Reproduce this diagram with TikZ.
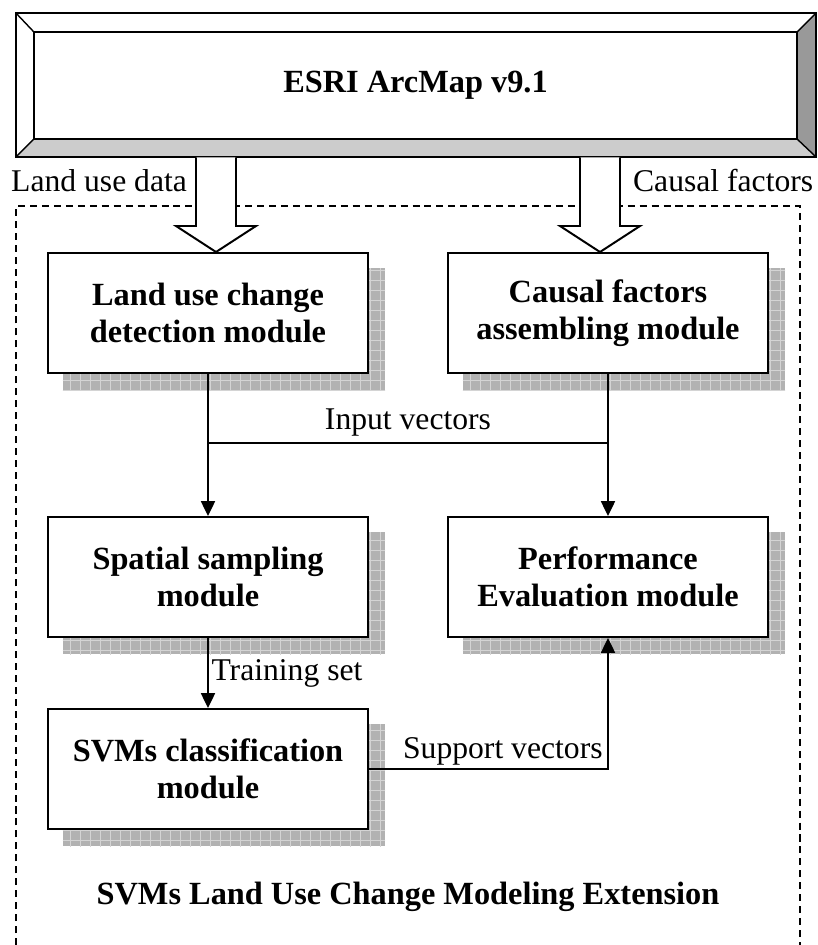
\documentclass[tikz,border=0pt]{standalone}
\usepackage{fontspec}
\setmainfont{Liberation Serif}
\usetikzlibrary{arrows.meta,calc,backgrounds}
\definecolor{BevelBottom}{RGB}{204,204,204}
\definecolor{BevelRight}{RGB}{153,153,153}
\definecolor{ShadowClr}{RGB}{178,178,178}
\definecolor{ShadowGrid}{RGB}{212,212,212}

\tikzset{
  module/.style={draw,line width=1.4pt,fill=white,minimum width=8cm,minimum height=3cm,
    inner sep=0pt,align=center,font=\fontsize{23}{26.2}\selectfont\bfseries},
  link/.style={line width=1pt,-{Triangle[length=10.5pt,width=10pt]}},
  plain/.style={line width=1pt},
  lbl/.style={font=\fontsize{22.5}{24}\selectfont,inner sep=2pt},
  fatarrow/.style={line width=1.4pt,fill=white,line join=miter},
  frame/.style={line width=1pt,dash pattern=on 5pt off 3.5pt}
}
\newcommand\BigArrow[2]{%
  \draw[fatarrow] ($(#1)+(-20,0)$) -- ($(#2)+(-20,-26)$) -- ($(#2)+(-40,-26)$)
    -- (#2) -- ($(#2)+(40,-26)$) -- ($(#2)+(20,-26)$) -- ($(#1)+(20,0)$);}

\begin{document}
\begin{tikzpicture}[x=0.025cm,y=-0.025cm]
\useasboundingbox (0,0) rectangle (817,945);

\node[inner sep=0pt,minimum width=19.075cm,minimum height=2.675cm,
  font=\fontsize{23}{26.2}\selectfont\bfseries] (arcmap) at (415.5,85.5) {ESRI ArcMap v9.1};
\coordinate (oNW) at ($(arcmap.north west)+(-18,-19)$);
\coordinate (oNE) at ($(arcmap.north east)+(19,-19)$);
\coordinate (oSW) at ($(arcmap.south west)+(-18,18)$);
\coordinate (oSE) at ($(arcmap.south east)+(19,18)$);
\fill[BevelBottom] (oSW) -- (arcmap.south west) -- (arcmap.south east) -- (oSE) -- cycle;
\fill[BevelRight] (oNE) -- (arcmap.north east) -- (arcmap.south east) -- (oSE) -- cycle;
\draw[line width=1.4pt] (oNW) rectangle (oSE);
\draw[line width=1.4pt] (arcmap.north west) rectangle (arcmap.south east);
\draw[plain] (oNW) -- (arcmap.north west) (oNE) -- (arcmap.north east)
  (oSW) -- (arcmap.south west) (oSE) -- (arcmap.south east);

\draw[frame] (16,945) -- (16,206) -- (800,206) -- (800,945);

\node[module] (landuse) at (208,313) {Land use change\\detection module};
\node[module] (causal) at (608,313) {Causal factors\\assembling module};
\node[module] (spatial) at (208,577) {Spatial sampling\\module};
\node[module] (perf) at (608,577) {Performance\\Evaluation module};
\node[module] (svm) at (208,769) {SVMs classification\\module};

\begin{scope}[on background layer]
\foreach \m in {landuse,causal,spatial,perf,svm}{
  \begin{scope}
    \clip ($(\m.south west)+(16,16)$) rectangle ($(\m.north east)+(16,16)$);
    \fill[ShadowClr] ($(\m.south west)+(16,16)$) rectangle ($(\m.north east)+(16,16)$);
    \draw[ShadowGrid,line width=0.6pt,step=0.25cm] ($(\m.south west)+(0,32)$) grid ($(\m.north east)+(32,0)$);
  \end{scope}
}
\end{scope}

\coordinate (luTip) at ($(landuse.north)+(8,0)$);
\coordinate (luIn) at (luTip |- oSW);
\coordinate (cfTip) at ($(causal.north)+(-8,0)$);
\coordinate (cfIn) at (cfTip |- oSW);
\BigArrow{luIn}{luTip}
\BigArrow{cfIn}{cfTip}

\node[lbl,anchor=base east] (ludata) at (190,192) {Land use data};
\node[lbl,anchor=base west] (cfdata) at (630,192) {Causal factors};

\coordinate (split) at (0,443);
\draw[link] (landuse.south) -- (spatial.north);
\draw[link] (causal.south) -- (perf.north);
\draw[plain] (landuse.south |- split) -- (causal.south |- split)
  node[lbl,midway,above=2pt] {Input vectors};
\draw[link] (spatial.south) -- (svm.north) node[lbl,midway,right] {Training set};
\draw[link] (svm.east) -| (perf.south) node[lbl,pos=0.28,above] {Support vectors};

\node[font=\fontsize{23}{26.2}\selectfont\bfseries] (title) at (408,897)
  {SVMs Land Use Change Modeling Extension};
\end{tikzpicture}
\end{document}
